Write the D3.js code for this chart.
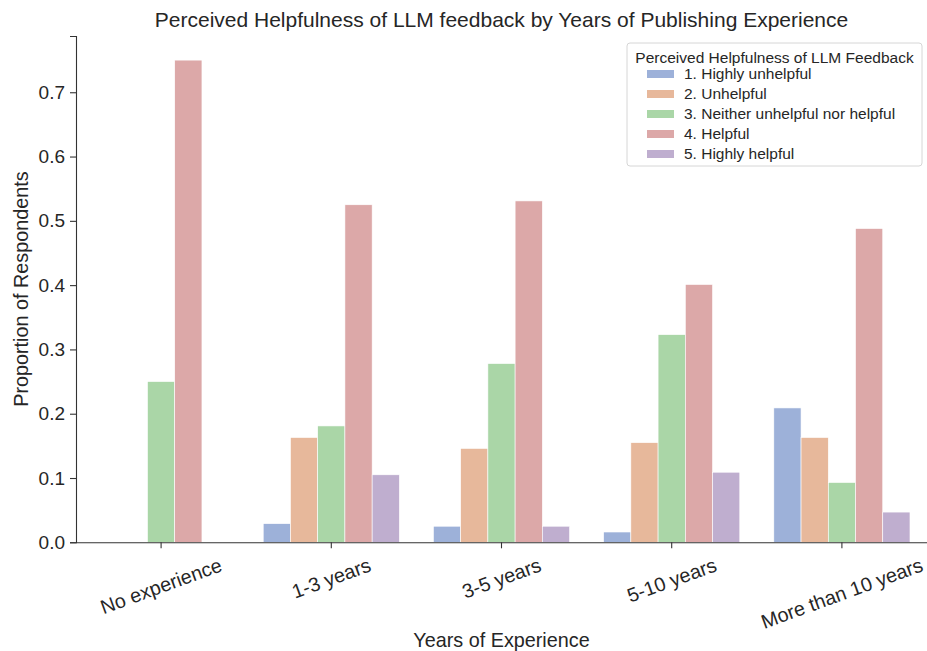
<!DOCTYPE html>
<html>
<head>
<meta charset="utf-8">
<script src="https://cdn.jsdelivr.net/npm/d3@7"></script>
<style>
  body { margin: 0; background: #fff; }
  text { font-family: "Liberation Sans", Arial, sans-serif; fill: #262626; }
</style>
</head>
<body>
<div id="chart"></div>
<script>
// categories on the x axis
var experience = ["No experience", "1-3 years", "3-5 years", "5-10 years", "More than 10 years"];
// hue levels
var levels = ["1. Highly unhelpful", "2. Unhelpful", "3. Neither unhelpful nor helpful", "4. Helpful", "5. Highly helpful"];
// proportion per experience group, one array per level
var highlyUnhelpful = [0, 0.029, 0.025, 0.016, 0.209];
var unhelpful       = [0, 0.163, 0.146, 0.155, 0.163];
var neither         = [0.25, 0.181, 0.278, 0.323, 0.093];
var helpful         = [0.75, 0.525, 0.531, 0.401, 0.488];
var highlyHelpful   = [0, 0.105, 0.025, 0.109, 0.047];
var yTicks = [0, 0.1, 0.2, 0.3, 0.4, 0.5, 0.6, 0.7];
var colors = ["#9db1d9", "#e7b89b", "#aad6a7", "#dca8a8", "#bfaecf"];

var series = [highlyUnhelpful, unhelpful, neither, helpful, highlyHelpful];

var W = 927, H = 651;
var margin = {top: 36, right: 0, bottom: 108.7, left: 76},
    width = W - margin.left - margin.right,
    height = H - margin.top - margin.bottom;

var svg = d3.select("#chart").append("svg")
    .attr("width", W)
    .attr("height", H);

var g = svg.append("g")
    .attr("transform", "translate(" + margin.left + "," + margin.top + ")");

// flatten into rows for the bars
var rows = [];
series.forEach(function (s, li) {
    s.forEach(function (v, ci) {
        rows.push({cat: experience[ci], level: levels[li], value: v});
    });
});

var x0 = d3.scaleBand()
    .domain(experience)
    .range([0, width])
    .paddingInner(0.2)
    .paddingOuter(0.1);

var x1 = d3.scaleBand()
    .domain(levels)
    .range([0, x0.bandwidth()]);

var y = d3.scaleLinear()
    .domain([0, 0.7875])
    .range([height, 0]);

var color = d3.scaleOrdinal().domain(levels).range(colors);

// bars
g.selectAll("rect.bar")
    .data(rows.filter(function (d) { return d.value > 0; }))
    .enter().append("rect")
    .attr("class", "bar")
    .attr("x", function (d) { return x0(d.cat) + x1(d.level); })
    .attr("y", function (d) { return y(d.value); })
    .attr("width", x1.bandwidth())
    .attr("height", function (d) { return height - y(d.value); })
    .attr("fill", function (d) { return color(d.level); })
    .attr("stroke", "#fff")
    .attr("stroke-width", 0.6);

// y axis
var yAxis = g.append("g")
    .call(d3.axisLeft(y).tickValues(yTicks).tickFormat(d3.format(".1f")).tickSize(6).tickPadding(5));
yAxis.selectAll("text").style("font-size", "19px").attr("fill", "#262626");

// x axis
var xAxis = g.append("g")
    .attr("transform", "translate(0," + height + ")")
    .call(d3.axisBottom(x0).tickSize(6).tickSizeOuter(0));
xAxis.select(".domain").attr("d", "M0,0.5H" + width);

// rotated tick labels, bbox top kept at a fixed line below the ticks
var fx = 19.8;
xAxis.selectAll(".tick text").each(function () {
    var t = d3.select(this)
        .style("font-size", fx + "px")
        .attr("text-anchor", "middle")
        .attr("dy", "0.35em")
        .attr("y", 0);
    var w = this.getComputedTextLength();
    var a = 20 * Math.PI / 180;
    var h = fx * 0.95;
    var cy = 13 + (w * Math.sin(a) + h * Math.cos(a)) / 2;
    t.attr("transform", "translate(0," + cy + ") rotate(-20)");
});

[yAxis, xAxis].forEach(function (ax) {
    ax.selectAll(".domain, .tick line").attr("stroke", "#333").attr("stroke-width", 1.1);
});

// titles
svg.append("text")
    .attr("x", margin.left + width / 2)
    .attr("y", 27)
    .attr("text-anchor", "middle")
    .style("font-size", "21px")
    .text("Perceived Helpfulness of LLM feedback by Years of Publishing Experience");

svg.append("text")
    .attr("x", margin.left + width / 2)
    .attr("y", 647)
    .attr("text-anchor", "middle")
    .style("font-size", "19.8px")
    .text("Years of Experience");

svg.append("text")
    .attr("transform", "translate(28," + (margin.top + height / 2) + ") rotate(-90)")
    .attr("text-anchor", "middle")
    .style("font-size", "19.8px")
    .text("Proportion of Respondents");

// legend
var lg = svg.append("g").attr("transform", "translate(627,43)");
lg.append("rect")
    .attr("width", 295)
    .attr("height", 123)
    .attr("rx", 3)
    .attr("fill", "#fff")
    .attr("fill-opacity", 0.8)
    .attr("stroke", "#d6d6d6");
lg.append("text")
    .attr("x", 147.5)
    .attr("y", 15)
    .attr("text-anchor", "middle")
    .attr("dy", "0.35em")
    .style("font-size", "15.5px")
    .text("Perceived Helpfulness of LLM Feedback");
var item = lg.selectAll("g.item")
    .data(levels)
    .enter().append("g")
    .attr("class", "item")
    .attr("transform", function (d, i) { return "translate(0," + (31 + i * 20) + ")"; });
item.append("rect")
    .attr("x", 20)
    .attr("y", -4)
    .attr("width", 27)
    .attr("height", 8)
    .attr("fill", function (d) { return color(d); });
item.append("text")
    .attr("x", 57)
    .attr("dy", "0.35em")
    .style("font-size", "15.5px")
    .text(function (d) { return d; });
</script>
</body>
</html>
